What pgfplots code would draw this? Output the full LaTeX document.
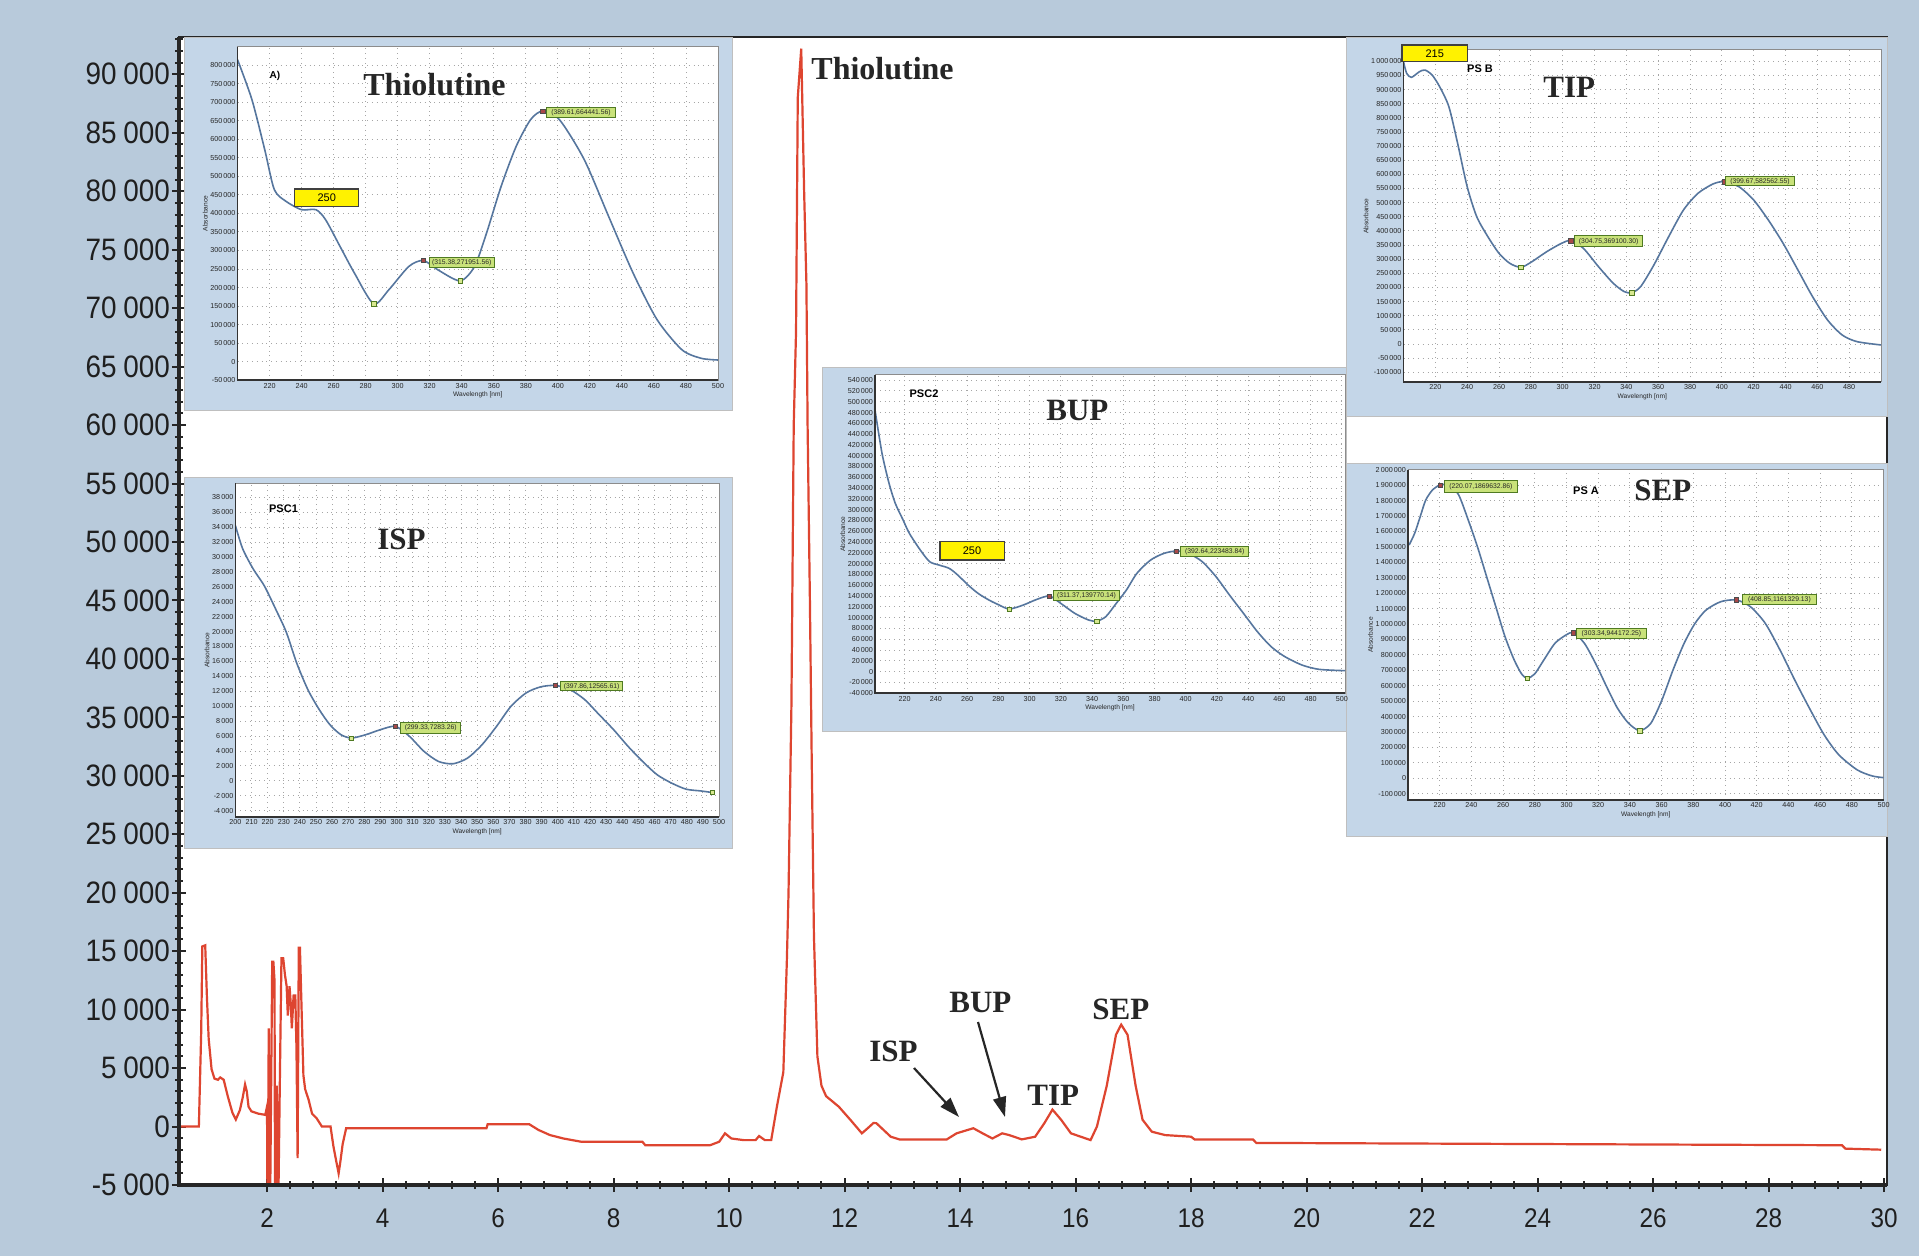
\documentclass[border=0pt]{standalone}
\usepackage{fontspec}
\usepackage{pgfplots}
\pgfplotsset{compat=1.18}
\usetikzlibrary{arrows.meta}
\setmainfont{Liberation Serif}
\newfontfamily\narrowf[FakeStretch=0.9]{Liberation Sans}
\newfontfamily\sansf{Liberation Sans}
\definecolor{bgblue}{HTML}{B8CADB}
\definecolor{panelblue}{HTML}{C4D6E8}
\definecolor{chrom}{HTML}{DE4530}
\definecolor{specc}{HTML}{56769E}
\definecolor{tagfill}{HTML}{C9E27A}
\definecolor{tagdraw}{HTML}{4F7A22}
\definecolor{sqfill}{HTML}{A84848}
\definecolor{cifill}{HTML}{D8E890}
\newcommand\insetfont{\sansf\fontsize{3.6}{4}\selectfont}
\newcommand\tagfont{\sansf\fontsize{3.4}{4}\selectfont}
\newcommand{\gtag}[5]{\draw[fill=tagfill, draw=tagdraw, line width=0.5pt] (#1,#2) rectangle (#3,#4); \node[font=\tagfont, inner sep=0pt, text=black!85] at ({(#1+#3)/2},{(#2+#4)/2}) {#5};}
\newcommand{\ybox}[5]{\draw[fill=yellow, draw=black!75, line width=0.7pt] (#1,#2) rectangle (#3,#4); \node[font=\sansf\fontsize{5.5}{6}\selectfont, inner sep=0pt] at ({(#1+#3)/2},{(#2+#4)/2}) {#5};}

\pgfplotsset{
  inset/.style={
    anchor=south west, scale only axis, clip mode=individual,
    axis background/.style={fill=white},
    axis line style={draw=black!45, line width=0.5pt},
    major tick length=0pt, minor tick length=0pt,
    grid=major, grid style={dotted, black!35, line width=0.45pt},
    tick label style={font=\insetfont, text=black!85},
    yticklabel style={inner sep=0.8pt},
    xticklabel style={inner sep=1.2pt},
    scaled ticks=false,
    yticklabel={\pgfmathprintnumber[fixed,precision=0,1000 sep={\,},assume math mode=true]{\tick}},
    xticklabel={\pgfmathprintnumber[fixed,precision=0,assume math mode=true]{\tick}},
    xlabel={Wavelength [nm]}, ylabel={Absorbance},
    label style={font=\sansf\fontsize{3.3}{3.6}\selectfont, text=black!85},
    xlabel style={yshift=3pt}, ylabel style={yshift=-3pt},
  },
  specline/.style={specc, line width=0.8pt, smooth, tension=0.45, no marks},
  maxmark/.style={only marks, mark=square*, mark size=1.1pt, mark options={draw=black!70, fill=sqfill, line width=0.3pt}},
  minmark/.style={only marks, mark=square*, mark size=1.1pt, mark options={draw=tagdraw, fill=cifill, line width=0.3pt}},
}

\begin{document}
\begin{tikzpicture}
% background
\begin{scope}[x=0.5pt,y=-0.5pt]
  \path[use as bounding box] (0,0) rectangle (1919,1256);
  \fill[bgblue] (0,0) rectangle (1919,1256);
\end{scope}

% main chromatogram
\begin{axis}[at={(89.5pt,-592.5pt)}, anchor=south west, scale only axis,
  width=854pt, height=574pt,
  xmin=0.476, xmax=30.05, ymin=-5000, ymax=93190,
  axis background/.style={fill=white},
  axis line style={black!85, line width=1.3pt},
  xtick={2,4,...,30}, ytick distance=5000,
  xtick pos=bottom, ytick pos=left,
  minor x tick num=4, minor y tick num=4,
  tick align=center, major tick length=7pt, minor tick length=4pt,
  tick style={black!85, line width=1pt},
  scaled ticks=false, clip mode=individual,
  xticklabel style={font=\narrowf\fontsize{13.5}{14}\selectfont, text=black!88, yshift=-5pt},
  yticklabel style={font=\narrowf\fontsize{15.5}{16}\selectfont, text=black!88, xshift=2.5pt},
  yticklabel={\pgfmathprintnumber[fixed,precision=0,1000 sep={\hspace{0.22em}},assume math mode=true]{\tick}},
  xticklabel={\pgfmathprintnumber[fixed,precision=0,assume math mode=true]{\tick}},
]
\addplot[chrom, line width=1.1pt] coordinates {
(0.476,0) (0.82,0) (0.86,8000) (0.88,15400) (0.93,15500) (0.96,11000) (0.99,7500)
(1.04,4900) (1.09,4100) (1.15,4000) (1.19,4200) (1.25,4000) (1.32,2600) (1.40,1200)
(1.46,600) (1.53,1400) (1.58,2500) (1.62,3600) (1.65,3000) (1.68,1700) (1.73,1300)
(1.85,1100) (1.97,1000) (2.00,1700) (2.01,-9000) (2.03,8400) (2.05,-9000) (2.09,14100)
(2.11,14100) (2.13,12500) (2.14,-9000) (2.17,3500) (2.19,-9000) (2.22,3000) (2.25,14400)
(2.28,14400) (2.31,13000) (2.34,12000) (2.36,9500) (2.39,12000) (2.41,10600) (2.43,8400)
(2.46,11200) (2.49,11200) (2.51,6700) (2.53,-2700) (2.55,15300) (2.57,15300) (2.60,9800)
(2.63,4400) (2.66,3200) (2.72,2300) (2.78,1100) (2.86,700) (2.95,0) (3.10,0)
(3.15,-1700) (3.20,-3000) (3.24,-4000) (3.27,-3000) (3.31,-1500) (3.37,-150)
(5.80,-150) (5.82,200) (6.54,200) (6.70,-290) (6.90,-730) (7.13,-1020) (7.44,-1300)
(8.50,-1300) (8.55,-1600) (9.67,-1600) (9.83,-1300) (9.93,-580) (10.04,-1020)
(10.25,-1160) (10.46,-1160) (10.52,-810) (10.62,-1160) (10.73,-1160) (10.83,1740)
(10.94,4650) (11.00,14000) (11.03,20000) (11.08,36000) (11.12,60000) (11.16,68000)
(11.19,88000) (11.25,92200) (11.30,80000) (11.34,72000) (11.36,60000) (11.40,45000)
(11.43,32000) (11.47,16300) (11.53,6000) (11.60,3500) (11.68,2600) (11.90,1700)
(12.10,580) (12.30,-580) (12.40,-150) (12.50,300) (12.55,290) (12.80,-870) (12.95,-1100)
(13.77,-1100) (13.94,-580) (14.23,-145) (14.39,-580) (14.56,-1020) (14.73,-580)
(14.85,-730) (15.07,-1100) (15.30,-870) (15.46,290) (15.60,1450) (15.75,580)
(15.92,-580) (16.09,-870) (16.26,-1160) (16.37,0) (16.54,3490) (16.70,7850)
(16.79,8720) (16.90,7850) (17.04,3490) (17.16,580) (17.32,-440) (17.55,-730)
(18.00,-870) (18.06,-1100) (19.07,-1100) (19.13,-1400) (29.27,-1600) (29.33,-1890)
(29.95,-1980)
};
\draw[line width=2.2pt, black!85] (rel axis cs:0,1) -- (rel axis cs:0,0) -- (rel axis cs:1,0);
\end{axis}

% panels
\begin{scope}[x=0.5pt,y=-0.5pt]
  \filldraw[fill=panelblue, draw=black!25, line width=0.4pt] (184,37) rectangle (732,410);
  \filldraw[fill=panelblue, draw=black!25, line width=0.4pt] (184,477) rectangle (732,848);
  \filldraw[fill=panelblue, draw=black!25, line width=0.4pt] (822,367) rectangle (1346,731);
  \filldraw[fill=panelblue, draw=black!25, line width=0.4pt] (1346,37) rectangle (1887,416);
  \filldraw[fill=panelblue, draw=black!25, line width=0.4pt] (1346,463) rectangle (1887,836);
\end{scope}

% Thiolutine inset
\begin{axis}[inset, at={(118.75pt,-190.1pt)}, width=240.25pt, height=166.6pt,
  xmin=200, xmax=500, ymin=-50000, ymax=849000,
  xtick={220,240,...,500}, ytick distance=50000]
\addplot[specline] coordinates {
(200,815000) (209,707000) (217,572000) (223,464000) (230.5,432000) (240,410000)
(249,410000) (255,383000) (264,311000) (273,239000) (285,156000) (294.5,194000)
(307,257000) (316,273000) (325,248000) (339,218000) (348,257000) (355.5,347000)
(364.6,473000) (374,581000) (383,653000) (390.5,676000) (401,653000) (416.5,545000)
(431.7,392000) (447,239000) (462,113000) (477.5,32000) (489.6,9000) (500,4500)};
\addplot[minmark] coordinates {(285,156000) (339,218000)};
\addplot[maxmark] coordinates {(316,273000) (390.5,676000)};
\draw[line width=0.9pt, black!80] (rel axis cs:0,1) -- (rel axis cs:0,0) -- (rel axis cs:1,0);
\end{axis}

% ISP inset
\begin{axis}[inset, at={(117.7pt,-408.5pt)}, width=241.8pt, height=167pt,
  xmin=200, xmax=500, ymin=-4840, ymax=39900,
  xtick={200,210,...,500}, ytick distance=2000]
\addplot[specline] coordinates {
(200,34200) (204.5,31100) (211,28400) (218,26100) (225,23000) (231.6,19900) (238,15800)
(245,12200) (252,9550) (258.6,7530) (265.4,6190) (272,5740) (281,6190) (290,6860)
(299.3,7300) (308,5960) (317,3950) (326,2600) (335,2290) (344,3050) (353,4840)
(362,7300) (371,10000) (380.5,11800) (389.5,12600) (398.5,12780) (407.5,12240)
(416.6,10900) (425.6,8880) (434.6,6860) (443.6,4620) (452.6,2600) (461.7,810)
(470.7,-310) (479.7,-1120) (488.7,-1350) (496,-1570)};
\addplot[minmark] coordinates {(272,5740) (496,-1570)};
\addplot[maxmark] coordinates {(299.3,7300) (398.5,12780)};
\draw[line width=0.9pt, black!80] (rel axis cs:0,1) -- (rel axis cs:0,0) -- (rel axis cs:1,0);
\end{axis}

% BUP inset
\begin{axis}[inset, at={(437.5pt,-346.65pt)}, width=235pt, height=159.15pt,
  xmin=201, xmax=502, ymin=-40000, ymax=549500,
  xtick={220,240,...,500}, ytick distance=20000]
\addplot[specline] coordinates {
(201,484600) (205.5,404300) (210,348800) (214,311700) (219,280900) (223,256200)
(230,225300) (236,203700) (242,197500) (248.5,191400) (254,179000) (260.6,160500)
(267,145100) (274,132700) (280.5,123500) (287,116100) (296,123500) (304.7,134000)
(312.7,140100) (320,126500) (329,108000) (337.8,95700) (343,93800) (348.8,101900)
(355.5,126500) (362,151200) (368.7,182100) (377.5,206800) (386,219100) (394,223500)
(401.8,219100) (410.6,203700) (419.4,175900) (428,142000) (437,108000) (445.9,74100)
(454.7,46300) (463.5,27800) (474.5,12300) (485.5,4300) (502,1900)};
\addplot[minmark] coordinates {(287,116100) (343,93800)};
\addplot[maxmark] coordinates {(312.7,140100) (394,223500)};
\draw[line width=0.9pt, black!80] (rel axis cs:0,1) -- (rel axis cs:0,0) -- (rel axis cs:1,0);
\end{axis}

% TIP inset
\begin{axis}[inset, at={(701.75pt,-191pt)}, width=238.75pt, height=166pt,
  xmin=200, xmax=500, ymin=-134500, ymax=1040000,
  xtick={220,240,...,480}, ytick distance=50000]
\addplot[specline] coordinates {
(200,998600) (202,957300) (205,943200) (210,963300) (213.5,969000) (218,951400)
(222.7,910200) (228.5,839500) (234,709800) (240,556500) (246,450400) (253,379600)
(260,320700) (266.8,285300) (273.8,271200) (280.7,291200) (290,326600) (299.3,356100)
(305,365500) (313,338400) (322.5,273500) (331.8,214600) (338.7,185100) (343.4,181600)
(349,202800) (357.3,279400) (366.6,379600) (375.9,474000) (385,532900) (394.4,565900)
(401.4,574200) (410.7,556500) (420,509300) (429.2,438600) (438.5,356100) (447.8,261700)
(457,167400) (466.4,84900) (475.6,31800) (484.9,8300) (500,-3500)};
\addplot[minmark] coordinates {(273.8,271200) (343.4,181600)};
\addplot[maxmark] coordinates {(305,365500) (401.4,574200)};
\draw[line width=0.9pt, black!80] (rel axis cs:0,1) -- (rel axis cs:0,0) -- (rel axis cs:1,0);
\end{axis}

% SEP inset
\begin{axis}[inset, at={(704pt,-400pt)}, width=237.75pt, height=165.15pt,
  xmin=200, xmax=500, ymin=-140600, ymax=2000000,
  xtick={220,240,...,500}, ytick distance=100000]
\addplot[specline] coordinates {
(200.7,1512000) (204.2,1587600) (207.7,1695600) (211.2,1803600) (215.8,1872700)
(220.5,1900800) (226.3,1900800) (232,1836000) (238,1674000) (243.8,1501200)
(249.6,1306800) (255.4,1112400) (261.2,918000) (267,766800) (271.7,676000)
(275.2,648000) (279.9,676000) (285.7,766800) (292.7,874800) (299.7,928800)
(304.3,943900) (311.3,874800) (318.3,745200) (325.3,594000) (332.2,453600)
(339.2,356400) (346.2,308900) (353.2,356400) (360.2,507600) (367.2,702000)
(374.2,874800) (381.1,1004400) (388.1,1090800) (397.4,1144800) (407.2,1155600)
(416,1112400) (425.4,1004400) (434.7,831600) (444,637200) (453.3,453600)
(462.6,280800) (471.9,151200) (483.5,54000) (492.9,15100) (500,4300)};
\addplot[minmark] coordinates {(275.2,648000) (346.2,308900)};
\addplot[maxmark] coordinates {(220.5,1900800) (304.3,943900) (407.2,1155600)};
\draw[line width=0.9pt, black!80] (rel axis cs:0,1) -- (rel axis cs:0,0) -- (rel axis cs:1,0);
\end{axis}

% annotations
\begin{scope}[x=0.5pt,y=-0.5pt]
  % main chromatogram labels
  \node[anchor=base west, inner sep=0pt, font=\bfseries\fontsize{16}{18}\selectfont, text=black!85] at (811,80) {Thiolutine};
  \node[anchor=base west, inner sep=0pt, font=\bfseries\fontsize{15.5}{17}\selectfont, text=black!85] at (869,1061) {ISP};
  \node[anchor=base west, inner sep=0pt, font=\bfseries\fontsize{15.5}{17}\selectfont, text=black!85] at (949,1013) {BUP};
  \node[anchor=base west, inner sep=0pt, font=\bfseries\fontsize{15.5}{17}\selectfont, text=black!85] at (1027,1105) {TIP};
  \node[anchor=base west, inner sep=0pt, font=\bfseries\fontsize{15.5}{17}\selectfont, text=black!85] at (1092,1020) {SEP};
  \draw[line width=1.1pt, black!85, -{Triangle[length=10pt,width=6.5pt]}] (914,1068) -- (959,1117);
  \draw[line width=1.1pt, black!85, -{Triangle[length=10pt,width=6.5pt]}] (978,1022) -- (1005,1117);
  % inset titles
  \node[anchor=base west, inner sep=0pt, font=\bfseries\fontsize{16}{18}\selectfont, text=black!85] at (363,96) {Thiolutine};
  \node[inner sep=0pt, font=\sansf\bfseries\fontsize{5}{6}\selectfont] at (275,76) {A)};
  \node[anchor=base west, inner sep=0pt, font=\bfseries\fontsize{15.5}{17}\selectfont, text=black!85] at (377,550) {ISP};
  \node[inner sep=0pt, font=\sansf\bfseries\fontsize{5.5}{6}\selectfont] at (283.5,509) {PSC1};
  \node[anchor=base west, inner sep=0pt, font=\bfseries\fontsize{15.5}{17}\selectfont, text=black!85] at (1046,421) {BUP};
  \node[inner sep=0pt, font=\sansf\bfseries\fontsize{5.5}{6}\selectfont] at (924,394) {PSC2};
  \node[anchor=base west, inner sep=0pt, font=\bfseries\fontsize{15.5}{17}\selectfont, text=black!85] at (1543,98) {TIP};
  \node[inner sep=0pt, font=\sansf\bfseries\fontsize{5.5}{6}\selectfont] at (1480,69) {PS B};
  \node[anchor=base west, inner sep=0pt, font=\bfseries\fontsize{15.5}{17}\selectfont, text=black!85] at (1634,501) {SEP};
  \node[inner sep=0pt, font=\sansf\bfseries\fontsize{5.5}{6}\selectfont] at (1586,491) {PS A};
  % yellow boxes
  \ybox{294.7}{189}{358.7}{206.7}{250}
  \ybox{939.8}{541.7}{1004.2}{560}{250}
  \ybox{1402}{45}{1467.4}{61.7}{215}
  % green tags
  \gtag{546.3}{107.3}{615.6}{117.3}{(389.61,664441.56)}
  \gtag{429}{257.7}{494.4}{267.7}{(315.38,271951.56)}
  \gtag{400.8}{722.3}{460.8}{733.3}{(299.33,7283.26)}
  \gtag{560.8}{681.7}{622.6}{691}{(397.86,12565.61)}
  \gtag{1053.5}{591}{1119.6}{600.7}{(311.37,139770.14)}
  \gtag{1180.9}{546.7}{1248.7}{556.7}{(392.64,223483.84)}
  \gtag{1574.5}{236}{1642.8}{246.7}{(304.75,369100.30)}
  \gtag{1725.9}{176.7}{1794.2}{186}{(399.67,582562.55)}
  \gtag{1444.5}{480.7}{1517.3}{492.7}{(220.07,1869632.86)}
  \gtag{1576.3}{628.3}{1646.5}{639}{(303.34,944172.25)}
  \gtag{1742.5}{594.3}{1816.4}{605}{(408.85,1161329.13)}
\end{scope}
\end{tikzpicture}
\end{document}
